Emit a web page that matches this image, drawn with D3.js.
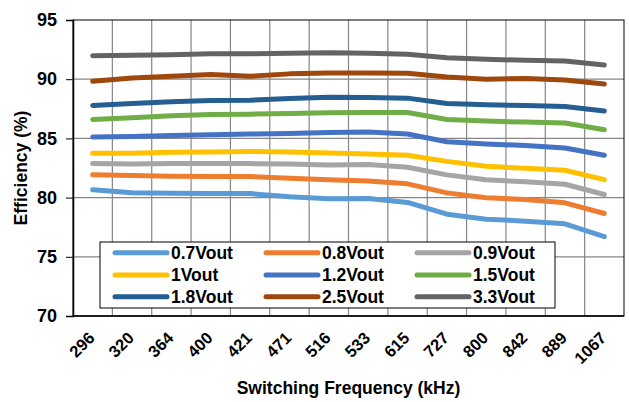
<!DOCTYPE html>
<html>
<head>
<meta charset="utf-8">
<script src="https://cdn.jsdelivr.net/npm/d3@7"></script>
<style>
  html, body { margin: 0; padding: 0; background: #fff; }
  svg { display: block; font-family: "Liberation Sans", Arial, sans-serif; font-weight: bold; }
</style>
</head>
<body>
<svg id="chart" width="629" height="402"></svg>
<script>
const categories = ["296","320","364","400","421","471","516","533","615","727","800","842","889","1067"];
const seriesNames = ["0.7Vout","0.8Vout","0.9Vout","1Vout","1.2Vout","1.5Vout","1.8Vout","2.5Vout","3.3Vout"];
const v07 = [80.66, 80.40, 80.37, 80.34, 80.34, 80.07, 79.90, 79.92, 79.59, 78.60, 78.18, 78.01, 77.79, 76.70];
const v08 = [81.92, 81.86, 81.80, 81.78, 81.78, 81.63, 81.50, 81.41, 81.16, 80.40, 79.98, 79.84, 79.56, 78.66];
const v09 = [82.87, 82.84, 82.87, 82.87, 82.87, 82.84, 82.76, 82.79, 82.56, 81.92, 81.50, 81.33, 81.13, 80.26];
const v10 = [83.74, 83.74, 83.82, 83.85, 83.90, 83.85, 83.77, 83.69, 83.57, 83.06, 82.64, 82.47, 82.31, 81.52];
const v12 = [85.12, 85.17, 85.25, 85.31, 85.37, 85.42, 85.50, 85.54, 85.37, 84.72, 84.53, 84.40, 84.19, 83.57];
const v15 = [86.60, 86.74, 86.91, 87.02, 87.05, 87.10, 87.16, 87.19, 87.19, 86.60, 86.46, 86.38, 86.30, 85.73];
const v18 = [87.78, 87.95, 88.09, 88.20, 88.23, 88.37, 88.48, 88.45, 88.40, 87.95, 87.84, 87.78, 87.69, 87.31];
const v25 = [89.83, 90.11, 90.25, 90.39, 90.25, 90.45, 90.53, 90.53, 90.50, 90.19, 90.00, 90.05, 89.94, 89.60];
const v33 = [91.99, 92.02, 92.07, 92.15, 92.15, 92.19, 92.24, 92.19, 92.10, 91.82, 91.68, 91.60, 91.54, 91.20];
const yTicks = [70, 75, 80, 85, 90, 95];
const colors = ["#5B9BD5","#ED7D31","#A5A5A5","#FFC000","#4472C4","#70AD47","#255E91","#9E480E","#636363"];
const xTitle = "Switching Frequency (kHz)";
const yTitle = "Efficiency (%)";

const seriesValues = [v07, v08, v09, v10, v12, v15, v18, v25, v33];
const series = seriesNames.map((n, i) => ({ name: n, values: seriesValues[i], color: colors[i] }));

const svg = d3.select("#chart");
const L = 73, R = 624, T = 20, B = 316;

const x = d3.scaleBand().domain(categories).range([L, R]).padding(0);
const y = d3.scaleLinear().domain([70, 95]).range([B, T]);
const cx = c => x(c) + x.bandwidth() / 2;

// gridlines
const grid = svg.append("g");
grid.selectAll("line.h").data(yTicks.filter(t => t > 70 && t < 95)).enter().append("line")
  .attr("x1", L).attr("x2", R).attr("y1", d => y(d)).attr("y2", d => y(d))
  .attr("stroke", "#868686").attr("stroke-width", 1.2);
grid.selectAll("line.v").data(categories.slice(1)).enter().append("line")
  .attr("x1", d => x(d)).attr("x2", d => x(d)).attr("y1", T).attr("y2", B)
  .attr("stroke", "#868686").attr("stroke-width", 1.2);

// plot border
svg.append("rect").attr("x", L).attr("y", T).attr("width", R - L).attr("height", B - T)
  .attr("fill", "none").attr("stroke", "#000").attr("stroke-width", 1);

// y axis
const yAxis = d3.axisLeft(y).tickValues(yTicks).tickSize(7).tickPadding(9).tickFormat(d3.format("d"));
const gy = svg.append("g").attr("transform", `translate(${L},0)`).call(yAxis);
gy.select(".domain").attr("stroke", "#000").attr("stroke-width", 1.5);
gy.selectAll(".tick line").attr("stroke", "#000");
gy.selectAll(".tick text").attr("font-size", 18).attr("font-family", "Liberation Sans, Arial, sans-serif")
  .attr("font-weight", "bold").attr("fill", "#000");

// x axis
const gx = svg.append("g").attr("transform", `translate(0,${B})`);
gx.append("line").attr("x1", L).attr("x2", R).attr("y1", 0).attr("y2", 0).attr("stroke", "#000").attr("stroke-width", 1.5);
gx.selectAll("text").data(categories).enter().append("text")
  .attr("transform", d => `translate(${cx(d) + 3},23) rotate(-45)`)
  .attr("text-anchor", "end")
  .attr("font-size", 16.5).attr("fill", "#000")
  .text(d => d);

// lines
const line = d3.line().x((d, i) => cx(categories[i])).y(d => y(d));
svg.append("g").selectAll("path").data(series).enter().append("path")
  .attr("d", d => line(d.values))
  .attr("fill", "none").attr("stroke", d => d.color).attr("stroke-width", 5)
  .attr("stroke-linecap", "round").attr("stroke-linejoin", "round");

// titles
svg.append("text").attr("x", (L + R) / 2).attr("y", 394).attr("text-anchor", "middle")
  .attr("font-size", 17.5).attr("fill", "#000").text(xTitle);
svg.append("text").attr("transform", `translate(27,${(T + B) / 2}) rotate(-90)`).attr("text-anchor", "middle")
  .attr("font-size", 17.5).attr("fill", "#000").text(yTitle);

// legend
const lg = svg.append("g");
lg.append("rect").attr("x", 100).attr("y", 242).attr("width", 455).attr("height", 66)
  .attr("fill", "#fff").attr("stroke", "#000").attr("stroke-width", 1);
const colX = [115, 266, 417], rowY = [252.7, 275, 296.7];
const items = lg.selectAll("g.item").data(series).enter().append("g")
  .attr("transform", (d, i) => `translate(${colX[i % 3]},${rowY[Math.floor(i / 3)]})`);
items.append("line").attr("x1", 0).attr("x2", 52).attr("y1", 0).attr("y2", 0)
  .attr("stroke", d => d.color).attr("stroke-width", 5).attr("stroke-linecap", "round");
items.append("text").attr("x", 56).attr("y", 6.3).attr("font-size", 17.5).attr("fill", "#000").text(d => d.name);
</script>
</body>
</html>
